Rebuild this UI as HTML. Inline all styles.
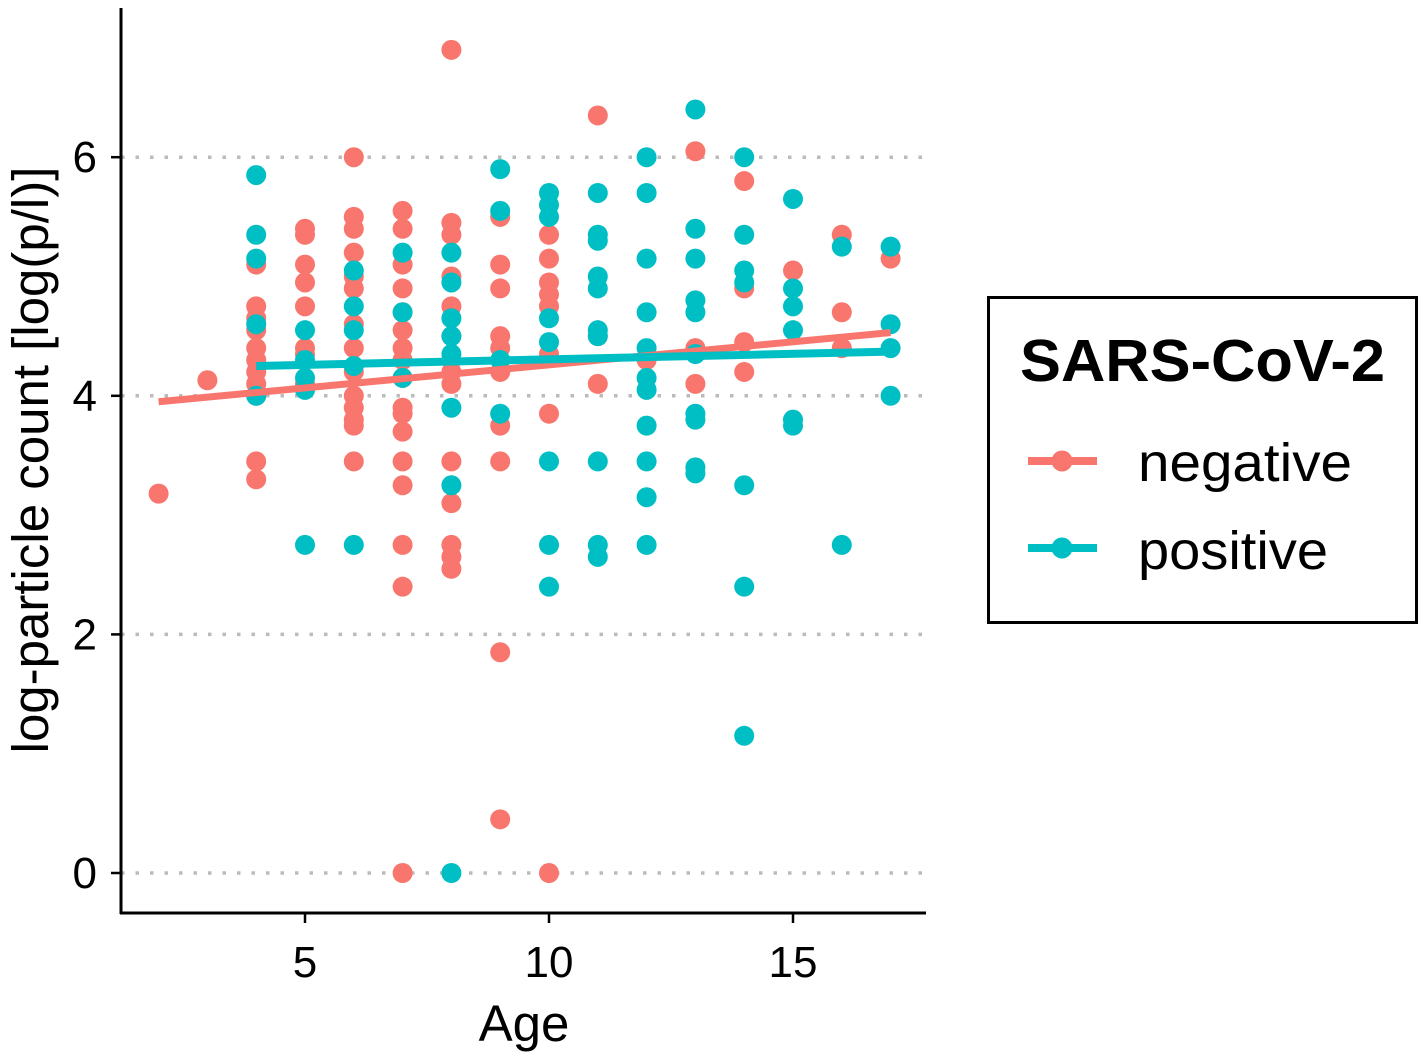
<!DOCTYPE html>
<html><head><meta charset="utf-8"><style>
html,body{margin:0;padding:0;background:#fff;}
svg text{font-family:"Liberation Sans",Arial,sans-serif;}
</style></head><body>
<svg width="1425" height="1057" viewBox="0 0 1425 1057">
<g id="grid"></g>
<g id="pts"></g>
<g id="fits"></g>
<g id="axes"></g>
<g>
<rect x="988.5" y="297.5" width="428" height="325" fill="#fff" stroke="#000" stroke-width="3"/>
<text x="1020" y="381" font-size="59" font-weight="bold" textLength="365" lengthAdjust="spacingAndGlyphs">SARS-CoV-2</text>
<g>
<line x1="1028" y1="461" x2="1097" y2="461" stroke="#F8766D" stroke-width="8"/>
<circle cx="1062" cy="461" r="10.5" fill="#F8766D"/>
<text x="1138" y="481" font-size="54" textLength="214" lengthAdjust="spacingAndGlyphs">negative</text></g>
<g>
<line x1="1028" y1="548" x2="1097" y2="548" stroke="#00BFC4" stroke-width="8"/>
<circle cx="1062" cy="548" r="10.5" fill="#00BFC4"/>
<text x="1138" y="569" font-size="54" textLength="190" lengthAdjust="spacingAndGlyphs">positive</text></g>
</g>
</svg>
<script>
const xTicks=[5,10,15];
const yTicks=[0,2,4,6];
const negAges=[2,3,4,4,4,4,4,4,4,4,4,4,4,5,5,5,5,5,5,5,5,6,6,6,6,6,6,6,6,6,6,6,6,6,6,7,7,7,7,7,7,7,7,7,7,7,7,7,7,7,7,7,8,8,8,8,8,8,8,8,8,8,8,8,8,8,9,9,9,9,9,9,9,9,9,9,10,10,10,10,10,10,10,10,11,11,11,12,13,13,13,14,14,14,14,15,16,16,16,17];
const negVals=[3.18,4.13,5.1,4.75,4.65,4.55,4.4,4.3,4.2,4.1,4.0,3.45,3.3,5.4,5.35,5.1,4.95,4.75,4.4,4.35,4.1,6.0,5.5,5.4,5.2,5.0,4.9,4.6,4.4,4.2,4.0,3.9,3.8,3.75,3.45,5.55,5.4,5.1,4.9,4.7,4.55,4.4,4.3,4.15,3.9,3.85,3.7,3.45,3.25,2.75,2.4,0,6.9,5.45,5.35,5.0,4.75,4.5,4.3,4.2,4.1,3.45,3.1,2.75,2.65,2.55,5.5,5.1,4.9,4.5,4.4,4.2,3.75,3.45,1.85,0.45,5.35,5.15,4.95,4.85,4.75,4.35,3.85,0,6.35,4.5,4.1,4.3,6.05,4.4,4.1,5.8,4.9,4.45,4.2,5.05,5.35,4.7,4.4,5.15];
const posAges=[4,4,4,4,4,5,5,5,5,5,6,6,6,6,6,7,7,7,8,8,8,8,8,8,8,8,9,9,9,9,10,10,10,10,10,10,10,10,11,11,11,11,11,11,11,11,11,11,12,12,12,12,12,12,12,12,12,12,12,13,13,13,13,13,13,13,13,13,13,14,14,14,14,14,14,14,15,15,15,15,15,15,16,16,17,17,17,17];
const posVals=[5.85,5.35,5.15,4.6,4.0,4.55,4.3,4.15,4.05,2.75,5.05,4.75,4.55,4.25,2.75,5.2,4.7,4.15,5.2,4.95,4.65,4.5,4.35,3.9,3.25,0,5.9,5.55,4.3,3.85,5.7,5.6,5.5,4.65,4.45,3.45,2.75,2.4,5.7,5.35,5.3,5.0,4.9,4.55,4.5,3.45,2.75,2.65,6.0,5.7,5.15,4.7,4.4,4.15,4.05,3.75,3.45,3.15,2.75,6.4,5.4,5.15,4.8,4.7,4.35,3.85,3.8,3.4,3.35,6.0,5.35,5.05,4.95,3.25,2.4,1.15,5.65,4.9,4.75,4.55,3.8,3.75,5.25,2.75,5.25,4.6,4.4,4.0];
const negFitX=[2,17], negFitY=[3.95,4.53];
const posFitX=[4,17], posFitY=[4.25,4.37];
const xs=v=>305+(v-5)*48.8;
const ys=v=>873-v*119.3;
const NS='http://www.w3.org/2000/svg';
function mk(t,a,p){const e=document.createElementNS(NS,t);for(const k in a)e.setAttribute(k,a[k]);p.appendChild(e);return e;}
const grid=document.getElementById('grid'),pts=document.getElementById('pts'),fits=document.getElementById('fits'),axes=document.getElementById('axes');
yTicks.forEach(v=>{
 const l=mk('line',{x1:121,x2:925,y1:ys(v),y2:ys(v),stroke:'#bbb','stroke-width':3.5,'stroke-dasharray':'3.5 11'},grid);
 
 
 const t=mk('line',{x1:111,x2:121,y1:ys(v),y2:ys(v),stroke:'#000','stroke-width':2.5},axes);
 
 
 const tx=mk('text',{x:97,y:ys(v)+15,'font-size':44,'text-anchor':'end'},axes);tx.textContent=v;
 
 
});
xTicks.forEach(v=>{
 const t=mk('line',{x1:xs(v),x2:xs(v),y1:913,y2:923,stroke:'#000','stroke-width':2.5},axes);
 
 
 const tx=mk('text',{x:xs(v),y:977,'font-size':44,'text-anchor':'middle'},axes);tx.textContent=v;
 
 
});
negAges.forEach((a,i)=>{const c=mk('circle',{cx:xs(a),cy:ys(negVals[i]),r:10,fill:'#F8766D'},pts);
 
 });
posAges.forEach((a,i)=>{const c=mk('circle',{cx:xs(a),cy:ys(posVals[i]),r:10,fill:'#00BFC4'},pts);
 
 });
const f1=mk('line',{x1:xs(negFitX[0]),y1:ys(negFitY[0]),x2:xs(negFitX[1]),y2:ys(negFitY[1]),stroke:'#F8766D','stroke-width':7},fits);


const f2=mk('line',{x1:xs(posFitX[0]),y1:ys(posFitY[0]),x2:xs(posFitX[1]),y2:ys(posFitY[1]),stroke:'#00BFC4','stroke-width':8},fits);


const ya=mk('line',{x1:121,x2:121,y1:8,y2:914,stroke:'#000','stroke-width':3},axes);


const xa=mk('line',{x1:120,x2:926,y1:913,y2:913,stroke:'#000','stroke-width':3},axes);


const xt=mk('text',{x:524,y:1041,'font-size':51,'text-anchor':'middle'},axes);xt.textContent='Age';


const yt=mk('text',{x:0,y:0,'font-size':51,'text-anchor':'middle',transform:'translate(48,460) rotate(-90)'},axes);yt.textContent='log-particle count [log(p/l)]';


</script>
</body></html>
